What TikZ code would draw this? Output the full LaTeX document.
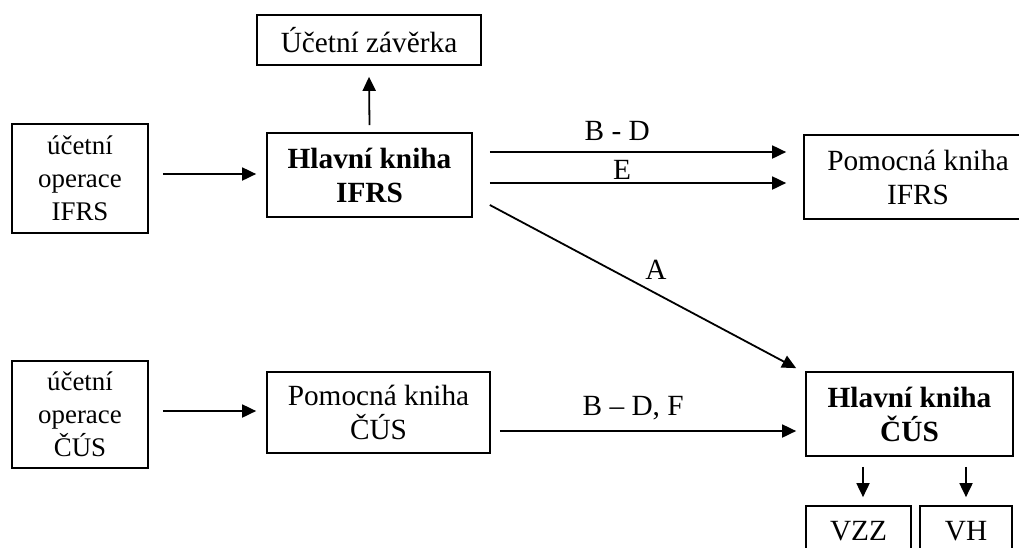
\documentclass[tikz,border=0pt]{standalone}
\usepackage{fontspec}
\setmainfont{Liberation Serif}
\usetikzlibrary{arrows.meta}
\begin{document}
\begin{tikzpicture}[x=1pt,y=-1pt,
  box/.style={draw, line width=1.7pt, inner sep=0pt, align=center, font=\fontsize{29.3}{34}\selectfont},
  opbox/.style={box, font=\fontsize{26.9}{33}\selectfont},
  hbox/.style={box, font=\fontsize{29.3}{34}\selectfont\bfseries},
  arr/.style={-{Triangle[length=14pt,width=13pt]}, line width=1.8pt},
  lbl/.style={font=\fontsize{29.3}{34}\selectfont, inner sep=0pt}]
\useasboundingbox (0,0) rectangle (1019,547);
\fill[white] (0,0) rectangle (1019,547);
\clip (0,0) rectangle (1019,547);

\node[box, minimum width=224pt, minimum height=50pt] (zav) at (369,40) {Účetní závěrka};
\node[opbox, minimum width=136pt, minimum height=109pt] (opI) at (80,178.5) {účetní\\operace\\IFRS};
\node[hbox, minimum width=205pt, minimum height=84pt] (hkI) at (369.5,175) {Hlavní kniha\\IFRS};
\node[box, minimum width=228pt, minimum height=84pt] (pkI) at (918,177) {Pomocná kniha\\IFRS};
\node[opbox, minimum width=136pt, minimum height=107pt] (opC) at (80,414.5) {účetní\\operace\\ČÚS};
\node[box, minimum width=223pt, minimum height=81pt] (pkC) at (378.5,412.5) {Pomocná kniha\\ČÚS};
\node[hbox, minimum width=207pt, minimum height=84pt] (hkC) at (909.5,414) {Hlavní kniha\\ČÚS};
\node[box, minimum width=105pt, minimum height=50pt] (vzz) at (858.5,531) {VZZ};
\node[box, minimum width=92pt, minimum height=50pt] (vh) at (966,531) {VH};

\draw[arr] ([xshift=14pt,yshift=4.5pt]opI.east) -- ([xshift=-10pt,yshift=1pt]hkI.west);
\draw[arr] ([yshift=7pt]hkI.north) -- ([yshift=-11pt]zav.south);
\draw[arr] ([xshift=17pt,yshift=23pt]hkI.east) -- node[lbl, pos=0.43, yshift=21pt] {B - D} ([xshift=-17pt,yshift=25pt]pkI.west);
\draw[arr] ([xshift=17pt,yshift=-8pt]hkI.east) -- node[lbl, pos=0.446, yshift=13pt] {E} ([xshift=-17pt,yshift=-6pt]pkI.west);
\draw[arr] ([xshift=17pt,yshift=-30pt]hkI.east) -- node[lbl, pos=0.542, yshift=24pt] {A} ([xshift=-9pt,yshift=3pt]hkC.north west);
\draw[arr] ([xshift=14pt,yshift=3.5pt]opC.east) -- ([xshift=-10pt,yshift=1.5pt]pkC.west);
\draw[arr] ([xshift=9pt,yshift=-18.5pt]pkC.east) -- node[lbl, pos=0.45, yshift=23pt] {B – D, F} ([xshift=-9pt,yshift=-17pt]hkC.west);
\draw[arr] ([xshift=-46.5pt,yshift=-10pt]hkC.south) -- ([xshift=4.5pt,yshift=8pt]vzz.north);
\draw[arr] ([xshift=56.5pt,yshift=-10pt]hkC.south) -- ([yshift=8pt]vh.north);
\end{tikzpicture}
\end{document}
